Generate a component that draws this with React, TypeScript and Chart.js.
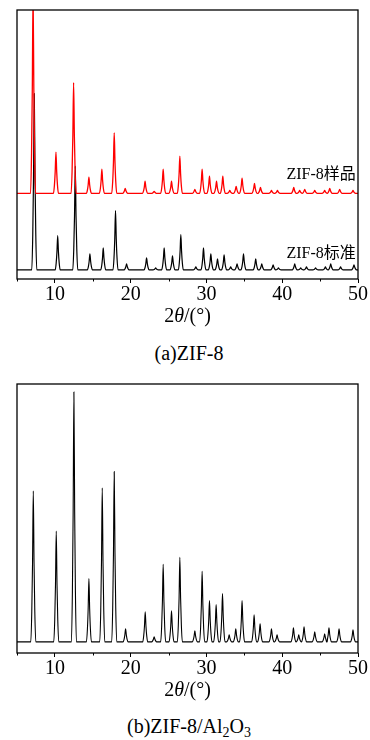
import React, { useEffect, useRef } from "react";
import { Chart, registerables } from "chart.js";

Chart.register(...registerables);

const FONT = '"Liberation Serif", "Noto Sans CJK SC", serif';

const xMin = 5;
const xMax = 50;
const yMax = 267;
const xTicks = [10, 20, 30, 40, 50];
const xMinorTicks = [5, 15, 25, 35, 45];

// (a) ZIF-8 sample (red)
const sampleBase = 85;
const samplePeakPos = [7.12, 10.14, 12.47, 14.49, 16.2, 17.83, 19.28, 21.9, 23.1, 24.29, 25.39, 26.49, 28.47, 29.43, 30.4, 31.33, 32.16, 33.08, 33.92, 34.7, 36.34, 37.13, 38.58, 39.37, 41.52, 42.3, 42.97, 44.29, 45.6, 46.27, 47.58, 49.34];
const samplePeakTop = [285, 126, 195, 101, 109, 145, 90, 97, 87, 109, 97, 122, 89, 109, 102, 97, 102, 88, 92, 100, 95, 91, 88, 88, 91, 88, 89, 88, 88, 90, 89, 88];

// (a) ZIF-8 standard (black)
const standardBase = 9;
const standardPeakPos = [7.28, 10.37, 12.69, 14.62, 16.38, 18.0, 19.46, 22.1, 23.3, 24.42, 25.52, 26.62, 28.6, 29.61, 30.58, 31.46, 32.33, 33.2, 34.04, 34.89, 36.5, 37.3, 38.8, 39.5, 41.65, 42.44, 43.2, 44.4, 45.7, 46.4, 47.7, 49.47];
const standardPeakTop = [184, 43, 112, 25, 31, 68, 15, 21, 11, 31, 23, 44, 12, 31, 25, 20, 24, 12, 15, 25, 20, 15, 14, 11, 15, 11, 12, 11, 12, 15, 12, 14];

// (b) ZIF-8/Al2O3 (black)
const compositeBase = 11;
const compositePeakPos = [7.15, 10.18, 12.51, 14.49, 16.25, 17.83, 19.33, 21.92, 23.1, 24.29, 25.39, 26.49, 28.47, 29.43, 30.4, 31.28, 32.12, 33.0, 33.87, 34.7, 36.29, 37.08, 38.58, 39.32, 41.48, 42.18, 42.88, 44.29, 45.6, 46.17, 47.5, 49.34];
const compositePeakTop = [161, 121, 259, 74, 164, 180, 24, 41, 16, 88, 42, 95, 22, 81, 52, 48, 59, 18, 24, 52, 38, 29, 24, 18, 25, 18, 26, 21, 19, 25, 24, 23];

// peak drawing template (offset in degrees, share of peak height)
const profileOffsets = [-0.33, -0.2, -0.1, 0, 0.1, 0.2, 0.33];
const profileShares = [0, 0.2, 0.52, 1, 0.52, 0.2, 0];

function buildPattern(base: number, pos: number[], top: number[]) {
  const pts: { x: number; y: number }[] = [{ x: xMin, y: base }];
  pos.forEach((c, i) => {
    profileOffsets.forEach((o, k) => {
      pts.push({ x: c + o, y: base + (top[i] - base) * profileShares[k] });
    });
  });
  pts.push({ x: xMax, y: base });
  pts.sort((a, b) => a.x - b.x);
  return pts;
}

type Label = { text: string; x: number; y: number };

const decorPlugin = {
  id: "decor",
  afterDatasetsDraw(chart: any, _args: any, opts: any) {
    const { ctx, chartArea: a, scales } = chart;
    ctx.save();
    ctx.strokeStyle = "#000";
    ctx.lineWidth = 1.3;
    ctx.strokeRect(a.left, a.top, a.right - a.left, a.bottom - a.top);
    ctx.lineWidth = 1;
    xMinorTicks.forEach((v) => {
      const px = Math.round(scales.x.getPixelForValue(v)) + 0.5;
      ctx.beginPath();
      ctx.moveTo(px, a.bottom);
      ctx.lineTo(px, a.bottom + 2.5);
      ctx.stroke();
    });
    ctx.fillStyle = "#000";
    ctx.font = `16px ${FONT}`;
    ctx.textAlign = "right";
    ctx.textBaseline = "alphabetic";
    ((opts && opts.labels) || []).forEach((l: Label) => {
      ctx.fillText(l.text, scales.x.getPixelForValue(l.x), scales.y.getPixelForValue(l.y));
    });
    // axis title 2θ/(°)
    const parts = [
      { t: "2", f: `20px ${FONT}` },
      { t: "θ", f: `italic 20px ${FONT}` },
      { t: "/(°)", f: `20px ${FONT}` },
    ];
    let total = 0;
    parts.forEach((p) => {
      ctx.font = p.f;
      total += ctx.measureText(p.t).width;
    });
    let x = (a.left + a.right) / 2 - total / 2;
    const y = a.bottom + 38;
    ctx.textAlign = "left";
    ctx.textBaseline = "middle";
    parts.forEach((p) => {
      ctx.font = p.f;
      ctx.fillText(p.t, x, y);
      x += ctx.measureText(p.t).width;
    });
    ctx.restore();
  },
};

function makeChart(canvas: HTMLCanvasElement, datasets: any[], labels: Label[]) {
  return new Chart(canvas, {
    type: "line",
    data: { datasets },
    plugins: [decorPlugin],
    options: {
      animation: false,
      responsive: false,
      events: [],
      layout: { padding: { left: 17, right: 12, top: 10, bottom: 23 } },
      plugins: {
        legend: { display: false },
        tooltip: { enabled: false },
        decor: { labels },
      } as any,
      elements: { point: { radius: 0 } },
      scales: {
        x: {
          type: "linear",
          min: xMin,
          max: xMax,
          afterBuildTicks: (s: any) => {
            s.ticks = xTicks.map((v) => ({ value: v }));
          },
          ticks: {
            color: "#000",
            font: { family: FONT, size: 20 },
            padding: 0,
            maxRotation: 0,
            autoSkip: false,
          },
          grid: {
            drawOnChartArea: false,
            drawTicks: true,
            tickLength: 4,
            color: "#000",
            lineWidth: 1,
          },
          border: { display: false },
        },
        y: { display: false, min: 0, max: yMax },
      },
    },
  });
}

function Panel({ top, datasets, labels }: { top: number; datasets: any[]; labels: Label[] }) {
  const ref = useRef<HTMLCanvasElement | null>(null);
  useEffect(() => {
    let chart: Chart | null = null;
    let cancelled = false;
    const fontsReady = (document as any).fonts
      ? Promise.all([
          (document as any).fonts.load('20px "Liberation Serif"'),
          (document as any).fonts.load('italic 20px "Liberation Serif"'),
          (document as any).fonts.load('16px "Noto Sans CJK SC"', "样品标准"),
        ]).catch(() => null)
      : Promise.resolve(null);
    fontsReady.then(() => {
      if (cancelled || !ref.current) return;
      chart = makeChart(ref.current, datasets, labels);
    });
    return () => {
      cancelled = true;
      if (chart) chart.destroy();
    };
  }, []);
  return (
    <canvas
      ref={ref}
      width={370}
      height={330}
      style={{ position: "absolute", left: 0, top, width: 370, height: 330 }}
    />
  );
}

const captionStyle: React.CSSProperties = {
  position: "absolute",
  left: 0,
  width: 378,
  textAlign: "center",
  fontFamily: FONT,
  fontSize: 20,
  lineHeight: "24px",
  color: "#000",
};

const subStyle: React.CSSProperties = {
  fontSize: "0.7em",
  position: "relative",
  top: "0.25em",
  lineHeight: 0,
  verticalAlign: "baseline",
};

export default function App() {
  const topSets = [
    {
      data: buildPattern(sampleBase, samplePeakPos, samplePeakTop),
      borderColor: "#ff0000",
      borderWidth: 1.3,
      cubicInterpolationMode: "monotone",
      fill: false,
    },
    {
      data: buildPattern(standardBase, standardPeakPos, standardPeakTop),
      borderColor: "#000000",
      borderWidth: 1.2,
      cubicInterpolationMode: "monotone",
      fill: false,
    },
  ];
  const bottomSets = [
    {
      data: buildPattern(compositeBase, compositePeakPos, compositePeakTop),
      borderColor: "#000000",
      borderWidth: 1.1,
      cubicInterpolationMode: "monotone",
      fill: false,
    },
  ];
  const topLabels: Label[] = [
    { text: "ZIF-8样品", x: 49.7, y: 99 },
    { text: "ZIF-8标准", x: 49.7, y: 21 },
  ];
  return (
    <div style={{ position: "absolute", left: 0, top: 0, width: 370, height: 740 }}>
      <Panel top={0} datasets={topSets} labels={topLabels} />
      <div style={{ ...captionStyle, top: 341 }}>(a)ZIF-8</div>
      <Panel top={374} datasets={bottomSets} labels={[]} />
      <div style={{ ...captionStyle, top: 714 }}>
        (b)ZIF-8/Al<span style={subStyle}>2</span>O<span style={subStyle}>3</span>
      </div>
    </div>
  );
}
